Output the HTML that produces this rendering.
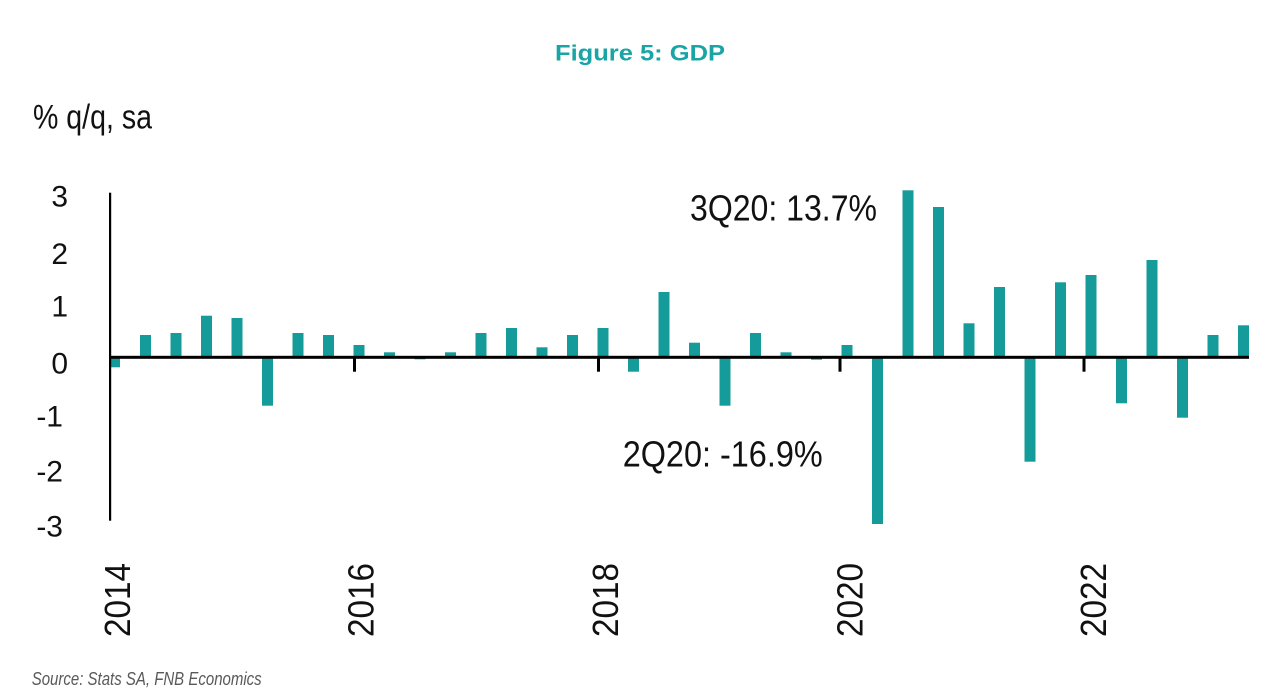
<!DOCTYPE html>
<html>
<head>
<meta charset="utf-8">
<style>
  html, body { margin: 0; padding: 0; background: #ffffff; }
  svg { display: block; }
  text { font-family: "Liberation Sans", sans-serif; }
</style>
</head>
<body>
<svg width="1280" height="700" viewBox="0 0 1280 700" xmlns="http://www.w3.org/2000/svg">
  <rect width="1280" height="700" fill="#ffffff"/>

  <!-- Title -->
  <text x="555" y="60.7" font-size="22" font-weight="bold" fill="#19a4a6" textLength="170" lengthAdjust="spacingAndGlyphs">Figure 5: GDP</text>

  <!-- Y axis title -->
  <text x="33" y="128.3" font-size="34" fill="#111" textLength="119" lengthAdjust="spacingAndGlyphs">% q/q, sa</text>

  <!-- Y tick labels -->
  <g font-size="30" fill="#111" text-anchor="end">
    <text x="68" y="206.7">3</text>
    <text x="68" y="264">2</text>
    <text x="68" y="316.7">1</text>
    <text x="68" y="373.3">0</text>
    <text x="63" y="426.7">-1</text>
    <text x="63" y="481.7">-2</text>
    <text x="63" y="536.7">-3</text>
  </g>

  <!-- Bars -->
  <g fill="#159c9a">
    <rect x="110" y="357" width="10" height="10.3"/>
    <rect x="140" y="335" width="11" height="22"/>
    <rect x="170.5" y="333" width="11" height="24"/>
    <rect x="201" y="315.7" width="11" height="41.3"/>
    <rect x="231.5" y="318" width="11" height="39"/>
    <rect x="262" y="357" width="11" height="48.7"/>
    <rect x="292.5" y="333" width="11" height="24"/>
    <rect x="323" y="335" width="11" height="22"/>
    <rect x="353.5" y="345" width="11" height="12"/>
    <rect x="384" y="352.3" width="11" height="4.7"/>
    <rect x="414.5" y="357" width="11" height="2.3"/>
    <rect x="445" y="352.3" width="11" height="4.7"/>
    <rect x="475.5" y="333" width="11" height="24"/>
    <rect x="506" y="328" width="11" height="29"/>
    <rect x="536.5" y="347.3" width="11" height="9.7"/>
    <rect x="567" y="335" width="11" height="22"/>
    <rect x="597.5" y="328" width="11" height="29"/>
    <rect x="628" y="357" width="11" height="14.7"/>
    <rect x="658.5" y="292" width="11" height="65"/>
    <rect x="689" y="342.7" width="11" height="14.3"/>
    <rect x="719.5" y="357" width="11" height="48.7"/>
    <rect x="750" y="333" width="11" height="24"/>
    <rect x="780.5" y="352.3" width="11" height="4.7"/>
    <rect x="811" y="357" width="11" height="2.7"/>
    <rect x="841.5" y="345" width="11" height="12"/>
    <rect x="872" y="357" width="11" height="167"/>
    <rect x="902.5" y="190.3" width="11" height="166.7"/>
    <rect x="933" y="207" width="11" height="150"/>
    <rect x="963.5" y="323.3" width="11" height="33.7"/>
    <rect x="994" y="287" width="11" height="70"/>
    <rect x="1024.5" y="357" width="11" height="104.7"/>
    <rect x="1055" y="282.3" width="11" height="74.7"/>
    <rect x="1085.5" y="275" width="11" height="82"/>
    <rect x="1116" y="357" width="11" height="46.3"/>
    <rect x="1146.5" y="260" width="11" height="97"/>
    <rect x="1177" y="357" width="11" height="60.7"/>
    <rect x="1207.5" y="335" width="11" height="22"/>
    <rect x="1238" y="325.3" width="11" height="31.7"/>
  </g>

  <!-- Axes -->
  <rect x="109" y="192.7" width="2.2" height="328" fill="#000"/>
  <rect x="110" y="355.8" width="1139" height="3" fill="#000"/>
  <!-- Ticks -->
  <g fill="#000">
    <rect x="353" y="358" width="3" height="13.7"/>
    <rect x="597" y="358" width="3" height="13.7"/>
    <rect x="838.5" y="358" width="3" height="13.7"/>
    <rect x="1082.5" y="358" width="3" height="13.7"/>
  </g>

  <!-- Year labels -->
  <g font-size="36" fill="#111">
    <text x="0" y="0" transform="translate(130,637) rotate(-90)" textLength="74" lengthAdjust="spacingAndGlyphs">2014</text>
    <text x="0" y="0" transform="translate(373.5,637) rotate(-90)" textLength="74" lengthAdjust="spacingAndGlyphs">2016</text>
    <text x="0" y="0" transform="translate(618,637) rotate(-90)" textLength="74" lengthAdjust="spacingAndGlyphs">2018</text>
    <text x="0" y="0" transform="translate(862.5,637) rotate(-90)" textLength="74" lengthAdjust="spacingAndGlyphs">2020</text>
    <text x="0" y="0" transform="translate(1106,637) rotate(-90)" textLength="74" lengthAdjust="spacingAndGlyphs">2022</text>
  </g>

  <!-- Annotations -->
  <text x="690" y="220.5" font-size="36" fill="#111" textLength="187" lengthAdjust="spacingAndGlyphs">3Q20: 13.7%</text>
  <text x="622.7" y="466.5" font-size="36" fill="#111" textLength="200" lengthAdjust="spacingAndGlyphs">2Q20: -16.9%</text>

  <!-- Source -->
  <text x="31.7" y="685" font-size="18" font-style="italic" fill="#595959" textLength="230" lengthAdjust="spacingAndGlyphs">Source: Stats SA, FNB Economics</text>
</svg>
</body>
</html>
